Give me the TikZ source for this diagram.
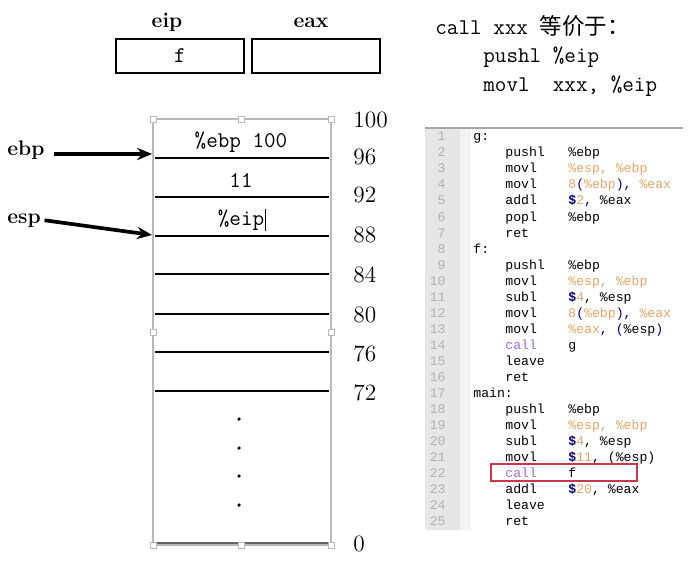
\documentclass[tikz,border=0pt]{standalone}
\usepackage{fontspec}
\newfontfamily\codefont{Liberation Mono}
\newfontfamily\cjk{Noto Sans CJK SC}
\usetikzlibrary{arrows.meta}
\definecolor{numcol}{HTML}{E3A46A}
\definecolor{dolcol}{HTML}{000080}
\definecolor{callcol}{HTML}{A46BD6}
\definecolor{gutter}{HTML}{E6E6E6}
\definecolor{gutterb}{HTML}{F3F3F3}
\definecolor{boxred}{HTML}{C8384A}
\newcommand\nm[1]{\textcolor{numcol}{#1}}
\newcommand\pn[1]{\textcolor{dolcol}{#1}}
\newcommand\dl{\textcolor{dolcol}{\bfseries\$}}
\newcommand\cl[1]{\textcolor{callcol}{#1}}

\begin{document}
\begin{tikzpicture}[x=0.02cm,y=-0.02cm,
  mono/.style={font=\ttfamily\fontsize{12.8}{15}\selectfont, inner sep=0pt},
  lbl/.style={font=\bfseries\fontsize{12}{14}\selectfont, inner sep=0pt},
  addr/.style={font=\fontsize{13.3}{15}\selectfont, anchor=base west, inner sep=0pt},
  code/.style={font=\codefont\fontsize{7.5}{9}\selectfont, inner sep=0pt, anchor=base west},
  reg/.style={draw, line width=0.8pt, minimum width=2.56cm, minimum height=0.68cm, inner sep=0pt},
  ptr/.style={line width=2.1pt, -{Stealth[length=8.5pt, width=7pt]}}]
\useasboundingbox (0,0) rectangle (689,564);

% registers
\node[lbl, anchor=base] (eip) at (167,28) {eip};
\node[lbl, anchor=base] (eax) at (311,28) {eax};
\node[reg, font=\ttfamily\fontsize{12.8}{15}\selectfont] (eipbox) at (180,56) {f};
\node[reg] (eaxbox) at (316,56) {};

% stack
\draw[gray!55, line width=0.8pt] (153,119) rectangle (331,545);
\draw[gray!80!black, line width=0.6pt] (155,543) -- (329,543);
\foreach \y in {158,197,236,274,314,352,391}
  \draw[line width=0.8pt] (155,\y) -- (329,\y);
\foreach \p in {(153,119),(241,119),(331,119),(153,332),(331,332),(153,545),(241,545),(331,545)}
  \filldraw[fill=white, draw=gray!55, line width=0.5pt] \p ++(-3,-3) rectangle ++(6,6);
\foreach \y in {419,448,476,505}
  \fill (239,\y) circle (1pt);

\node[mono, anchor=base] (slot1) at (241,148) {\%ebp 100};
\node[mono, anchor=base] (slot2) at (241,188) {11};
\node[mono, anchor=base] (slot3) at (241,225) {\%eip};
\draw[line width=0.5pt] (slot3.east) ++(1,-11) -- ++(0,22);

\foreach \a/\y in {100/128,96/165,92/202,88/242,84/282,80/322,76/361,72/400,0/551}
  \node[addr] (a\a) at (353,\y) {\a};

% pointers
\node[lbl, anchor=base west] (ebp) at (7,156) {ebp};
\node[lbl, anchor=base west] (esp) at (7,223) {esp};
\coordinate (ebpat) at (152,154);
\coordinate (espat) at (152,235);
\draw[ptr] ([xshift=5]ebp.east |- ebpat) -- (ebpat);
\draw[ptr] ([xshift=2]esp.east) -- (espat);

% call
\node[mono, anchor=base west] (hdr) at (435,35) {call xxx {\cjk 等价于：}};
\node[mono, anchor=base west] (push) at (483,63) {pushl \%eip};
\node[mono, anchor=base west] (movl) at (483,92) {movl\ \ xxx, \%eip};

% listing
\fill[gutter] (425,128) rectangle (460,530);
\fill[gutterb] (460,128) rectangle (471,530);
\draw[gray!70, line width=1pt] (425,128) -- (683,128);
\foreach \i in {1,...,25}
  \node[code, text=gray!60, anchor=base east] (num\i) at (446,{141+16*(\i-1)}) {\i};
\node[code] (lg) at (473,141) {g:};
\node[code] (lf) at (473,253) {f:};
\node[code] (lmain) at (473,397) {main:};
\foreach \i/\op/\arg in {
  2/pushl/\%ebp,
  3/movl/{\nm{\%esp, \%ebp}},
  4/movl/{\nm{8}\pn{(}\nm{\%ebp}\pn{),} \nm{\%eax}},
  5/addl/{\dl\nm{2}\pn{,} \%eax},
  6/popl/\%ebp,
  7/ret/{},
  9/pushl/\%ebp,
  10/movl/{\nm{\%esp, \%ebp}},
  11/subl/{\dl\nm{4}, \%esp},
  12/movl/{\nm{8}\pn{(}\nm{\%ebp}\pn{),} \nm{\%eax}},
  13/movl/{\nm{\%eax}\pn{, (}\%esp\pn{)}},
  14/\cl{call}/g,
  15/leave/{},
  16/ret/{},
  18/pushl/\%ebp,
  19/movl/{\nm{\%esp, \%ebp}},
  20/subl/{\dl\nm{4}, \%esp},
  21/movl/{\dl\nm{11}, (\%esp)},
  22/\cl{call}/f,
  23/addl/{\dl\nm{20}, \%eax},
  24/leave/{},
  25/ret/{}} {
  \node[code] (ins\i) at (505,{141+16*(\i-1)}) {\op};
  \node[code] (arg\i) at (568,{141+16*(\i-1)}) {\arg};
}
\draw[boxred, line width=0.7pt] (491,464) rectangle (637,481);
\end{tikzpicture}
\end{document}
